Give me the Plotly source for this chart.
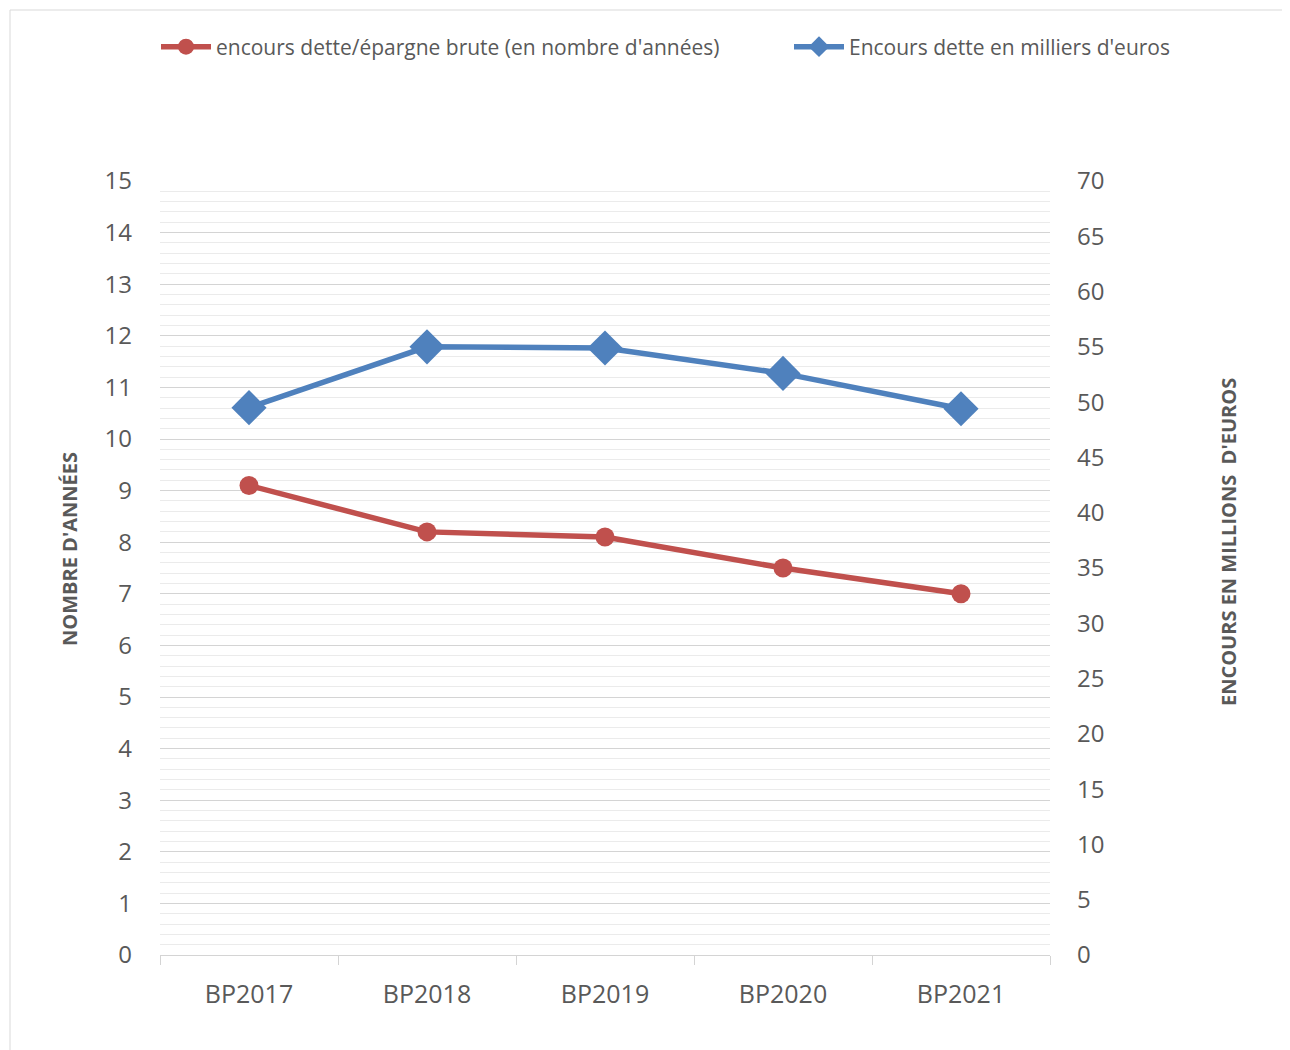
import plotly.graph_objects as go

categories = ["BP2017", "BP2018", "BP2019", "BP2020", "BP2021"]
ratio_years = [9.1, 8.2, 8.1, 7.5, 7.0]
debt_millions = [49.5, 55.0, 54.9, 52.6, 49.4]

name_ratio = "encours dette/épargne brute (en nombre d'années)"
name_debt = "Encours dette en milliers d'euros"
title_left = "NOMBRE D'ANNÉES"
title_right = "ENCOURS EN MILLIONS  D'EUROS"

RED = "#C0504D"
BLUE = "#4F81BD"
TXT = "#595959"
FONT = "Open Sans"

# page offset of 8px (default body margin) taken into account
OFF = 8
W, H = 1290 - OFF, 1050 - OFF
L, R, T, B = 160 - OFF, 1050 - OFF, 181 - OFF, 955 - OFF

fig = go.Figure()
fig.add_trace(go.Scatter(
    x=categories, y=ratio_years, name=name_ratio, mode="lines+markers",
    line=dict(color=RED, width=5.5), marker=dict(symbol="circle", size=19, color=RED),
    yaxis="y", legend="legend"))
fig.add_trace(go.Scatter(
    x=categories, y=debt_millions, name=name_debt, mode="lines+markers",
    line=dict(color=BLUE, width=5.5), marker=dict(symbol="diamond", size=27, color=BLUE),
    yaxis="y2", legend="legend2"))

def px_x(p):
    return (p - OFF - L) / (R - L)

def px_y(p):
    return (B - (p - OFF)) / (B - T)

fig.add_shape(type="rect", xref="paper", yref="paper",
              x0=px_x(10), x1=px_x(1300), y0=px_y(1060), y1=px_y(10),
              line=dict(color="#d9d9d9", width=1), layer="below")

fig.add_annotation(text="<b>" + title_left + "</b>", textangle=-90, showarrow=False,
                   xref="paper", yref="paper", x=px_x(69), y=px_y(549),
                   xanchor="center", yanchor="middle",
                   font=dict(size=20, color=TXT, family=FONT))
fig.add_annotation(text="<b>" + title_right + "</b>", textangle=-90, showarrow=False,
                   xref="paper", yref="paper", x=px_x(1228), y=px_y(542),
                   xanchor="center", yanchor="middle",
                   font=dict(size=20, color=TXT, family=FONT))

leg_common = dict(orientation="h", xref="container", yref="container",
                  xanchor="left", yanchor="middle",
                  font=dict(size=21, color=TXT, family=FONT), itemwidth=50,
                  bgcolor="rgba(0,0,0,0)")

fig.update_layout(
    width=W, height=H,
    margin=dict(l=L, r=W - R, t=T, b=H - B, autoexpand=False),
    paper_bgcolor="white", plot_bgcolor="white",
    font=dict(family=FONT, color=TXT),
    showlegend=True,
    legend=dict(**leg_common, x=(156 - OFF) / W, y=1 - (47 - OFF) / H),
    legend2=dict(**leg_common, x=(789 - OFF) / W, y=1 - (47 - OFF) / H),
    xaxis=dict(type="category", tickson="boundaries", ticks="outside", ticklen=9,
               tickcolor="#d4d4d4", showline=True, linecolor="#d4d4d4", linewidth=1,
               showgrid=False, tickfont=dict(size=25, color=TXT), ticklabelstandoff=17,
               range=[-0.5, 4.5]),
    yaxis=dict(range=[0, 15], dtick=1, showgrid=True, gridcolor="#d4d4d4", gridwidth=1,
               minor=dict(dtick=0.2, showgrid=True, gridcolor="#ebebeb", gridwidth=1),
               zeroline=False, showline=False, tickfont=dict(size=24, color=TXT),
               ticklabelstandoff=27),
    yaxis2=dict(range=[0, 70], dtick=5, overlaying="y", side="right", showgrid=False,
                zeroline=False, showline=False, tickfont=dict(size=24, color=TXT),
                ticklabelstandoff=26),
)

fig.write_html("out.html")
